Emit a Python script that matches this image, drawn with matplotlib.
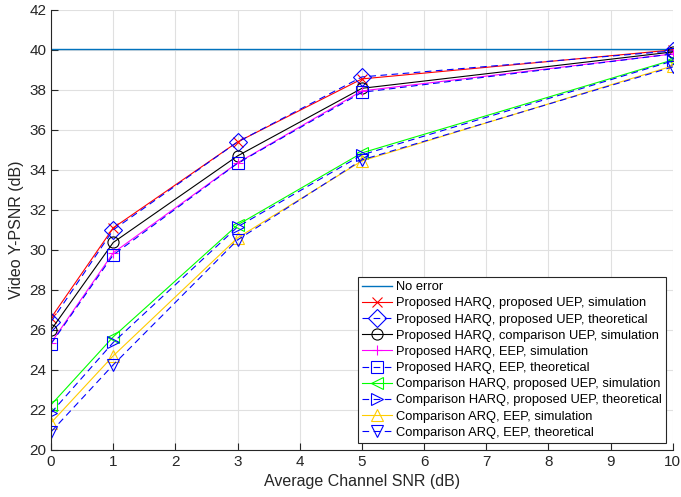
import matplotlib
matplotlib.use('Agg')
import matplotlib.pyplot as plt

plt.rcParams['font.family'] = ['Liberation Sans', 'DejaVu Sans']

snr = [0, 1, 3, 5, 10]
no_error = [40.05, 40.05, 40.05, 40.05, 40.05]
prop_harq_prop_uep_sim = [26.6, 31.1, 35.4, 38.55, 40.0]
prop_harq_prop_uep_th = [26.4, 31.0, 35.4, 38.65, 39.95]
prop_harq_comp_uep_sim = [26.0, 30.37, 34.7, 38.08, 39.9]
prop_harq_eep_sim = [25.35, 29.85, 34.35, 37.95, 39.8]
prop_harq_eep_th = [25.3, 29.75, 34.33, 37.88, 39.8]
comp_harq_prop_uep_sim = [22.25, 25.65, 31.25, 34.85, 39.5]
comp_harq_prop_uep_th = [21.85, 25.37, 31.15, 34.75, 39.45]
comp_arq_eep_sim = [21.35, 24.7, 30.6, 34.45, 39.2]
comp_arq_eep_th = [20.9, 24.25, 30.5, 34.5, 39.15]

series = [
    (prop_harq_prop_uep_sim, 'Proposed HARQ, proposed UEP, simulation', (1, 0, 0), 'x', '-'),
    (prop_harq_prop_uep_th, 'Proposed HARQ, proposed UEP, theoretical', (0, 0, 1), 'D', '--'),
    (prop_harq_comp_uep_sim, 'Proposed HARQ, comparison UEP, simulation', (0, 0, 0), 'o', '-'),
    (prop_harq_eep_sim, 'Proposed HARQ, EEP, simulation', (1, 0, 1), '+', '-'),
    (prop_harq_eep_th, 'Proposed HARQ, EEP, theoretical', (0, 0, 1), 's', '--'),
    (comp_harq_prop_uep_sim, 'Comparison HARQ, proposed UEP, simulation', (0, 1, 0), '<', '-'),
    (comp_harq_prop_uep_th, 'Comparison HARQ, proposed UEP, theoretical', (0, 0, 1), '>', '--'),
    (comp_arq_eep_sim, 'Comparison ARQ, EEP, simulation', (1, 0.8, 0), '^', '-'),
    (comp_arq_eep_th, 'Comparison ARQ, EEP, theoretical', (0, 0, 1), 'v', '--'),
]

fig = plt.figure(figsize=(6.81, 4.97), dpi=100)
ax = fig.add_axes([0.075, 0.095, 0.913, 0.885])

ax.plot(snr, no_error, color=(0, 0.447, 0.741), lw=1.0, label='No error')
for ys, lab, col, mk, ls in series:
    ms = 9 if mk == 'D' else 8
    if mk in ('x', '+'):
        ms = 7
    line, = ax.plot(snr, ys, color=col, marker=mk, ls=ls, lw=0.8, ms=ms,
                    mfc='none', mec=col, mew=0.8, label=lab)
    if ls == '--':
        line.set_dashes((6, 4))

ax.set_xlim(0, 10)
ax.set_ylim(20, 42)
ax.set_xticks(range(0, 11))
ax.set_yticks(range(20, 43, 2))
ax.grid(True, color=(0.88, 0.88, 0.88), lw=0.8)
ax.set_axisbelow(True)
ax.spines['top'].set_visible(False)
ax.spines['right'].set_visible(False)
for s in ('left', 'bottom'):
    ax.spines[s].set_color((0.15, 0.15, 0.15))
    ax.spines[s].set_linewidth(0.8)
ax.tick_params(direction='in', length=5, width=0.8, labelsize=11, colors=(0.15, 0.15, 0.15))
ax.set_xlabel('Average Channel SNR (dB)', fontsize=11.5, color=(0.15, 0.15, 0.15))
ax.set_ylabel('Video Y-PSNR (dB)', fontsize=11.5, color=(0.15, 0.15, 0.15))

leg = ax.legend(loc='lower right', fontsize=9.3, frameon=True, fancybox=False,
                edgecolor=(0.15, 0.15, 0.15), framealpha=1, handlelength=2.3,
                handletextpad=0.35, labelspacing=0.32, borderpad=0.3,
                borderaxespad=0.55)
leg.get_frame().set_linewidth(0.8)

fig.savefig('out.png', dpi=100)
